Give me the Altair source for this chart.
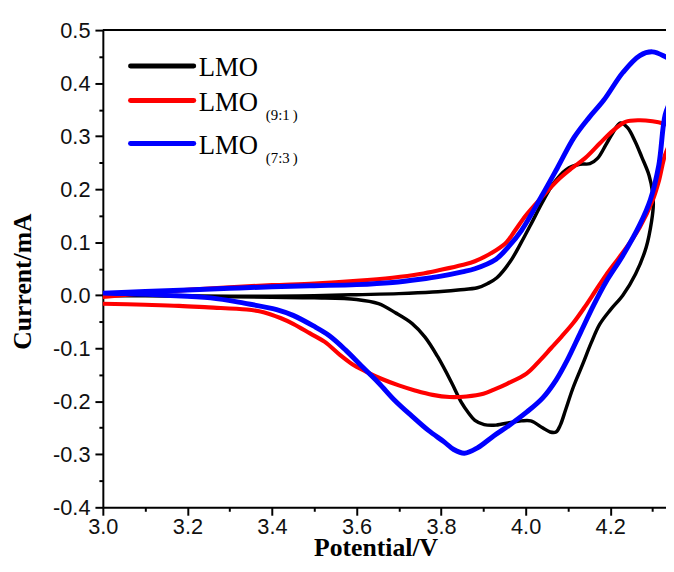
import altair as alt
import pandas as pd

# ---------------- data ----------------
series_names = ["LMO", "LMO (9:1)", "LMO (7:3)"]
series_colors = ["#000000", "#ff0000", "#0000ff"]

# LMO (black): anodic sweep then cathodic sweep
lmo_x = [3.000, 3.100, 3.200, 3.300, 3.400, 3.500, 3.600, 3.700, 3.780, 3.840,
         3.886, 3.910, 3.932, 3.964, 3.990, 4.012, 4.040, 4.065, 4.096, 4.128,
         4.152, 4.170, 4.190, 4.206, 4.224, 4.241, 4.259, 4.275, 4.292, 4.300,
         4.302, 4.298, 4.285, 4.260, 4.230, 4.200, 4.175, 4.155, 4.135, 4.112,
         4.095, 4.082, 4.072, 4.058, 4.040, 4.012, 3.990, 3.964, 3.930, 3.902,
         3.880, 3.865, 3.848, 3.825, 3.792, 3.762, 3.731, 3.692, 3.652, 3.600,
         3.500, 3.400, 3.300, 3.200, 3.100, 3.000]
lmo_y = [0.000, 0.000, -0.001, -0.002, -0.002, -0.001, 0.001, 0.003, 0.006, 0.010,
         0.014, 0.022, 0.033, 0.064, 0.100, 0.133, 0.176, 0.210, 0.237, 0.247,
         0.248, 0.258, 0.284, 0.306, 0.325, 0.316, 0.290, 0.260, 0.226, 0.195,
         0.170, 0.140, 0.090, 0.040, 0.000, -0.028, -0.055, -0.090, -0.130, -0.175,
         -0.215, -0.245, -0.258, -0.258, -0.250, -0.237, -0.237, -0.240, -0.245, -0.244,
         -0.236, -0.222, -0.202, -0.165, -0.116, -0.079, -0.053, -0.033, -0.016, -0.008,
         -0.005, -0.004, -0.003, -0.002, -0.001, -0.001]

# LMO (9:1) (red)
lmo91_x = [3.000, 3.100, 3.200, 3.300, 3.400, 3.500, 3.600, 3.685, 3.750, 3.800,
           3.850, 3.880, 3.930, 3.955, 3.975, 4.000, 4.035, 4.080, 4.110, 4.140,
           4.175, 4.206, 4.236, 4.269, 4.300, 4.330, 4.350,
           4.362, 4.345, 4.330, 4.315, 4.300, 4.270, 4.250, 4.220, 4.190, 4.165,
           4.140, 4.112, 4.085, 4.060, 4.035, 4.002, 3.956, 3.925, 3.900, 3.860,
           3.820, 3.780, 3.740, 3.700, 3.660, 3.620, 3.590, 3.560, 3.525, 3.490,
           3.450, 3.420, 3.380, 3.340, 3.250, 3.180, 3.100, 3.000]
lmo91_y = [-0.003, 0.004, 0.010, 0.015, 0.019, 0.022, 0.027, 0.033, 0.040, 0.048,
           0.057, 0.064, 0.085, 0.100, 0.122, 0.150, 0.182, 0.220, 0.240, 0.258,
           0.286, 0.310, 0.327, 0.330, 0.328, 0.323, 0.318,
           0.300, 0.290, 0.265, 0.215, 0.178, 0.128, 0.103, 0.070, 0.038, 0.008,
           -0.022, -0.053, -0.078, -0.100, -0.122, -0.148, -0.167, -0.178, -0.186, -0.191,
           -0.192, -0.188, -0.180, -0.170, -0.158, -0.143, -0.130, -0.112, -0.088, -0.072,
           -0.054, -0.043, -0.032, -0.027, -0.023, -0.020, -0.018, -0.016]

# LMO (7:3) (blue)
lmo73_x = [3.000, 3.100, 3.200, 3.300, 3.400, 3.500, 3.600, 3.685, 3.750, 3.800,
           3.850, 3.880, 3.930, 3.960, 3.990, 4.040, 4.075, 4.115, 4.150, 4.185,
           4.230, 4.270, 4.300, 4.330, 4.350,
           4.365, 4.345, 4.330, 4.315, 4.295, 4.270, 4.230, 4.190, 4.160, 4.130,
           4.100, 4.072, 4.040, 4.000, 3.960, 3.925, 3.886, 3.855, 3.830,
           3.808, 3.770, 3.731, 3.690, 3.652, 3.610, 3.575, 3.535, 3.498, 3.450,
           3.411, 3.334, 3.255, 3.150, 3.050, 3.000]
lmo73_y = [0.004, 0.007, 0.010, 0.013, 0.016, 0.018, 0.020, 0.024, 0.030, 0.036,
           0.044, 0.050, 0.068, 0.092, 0.122, 0.190, 0.240, 0.298, 0.335, 0.368,
           0.420, 0.452, 0.459, 0.450, 0.440,
           0.400, 0.370, 0.340, 0.245, 0.180, 0.133, 0.075, 0.025, -0.020, -0.070,
           -0.120, -0.160, -0.194, -0.222, -0.246, -0.265, -0.288, -0.298, -0.291,
           -0.277, -0.255, -0.228, -0.198, -0.165, -0.132, -0.104, -0.076, -0.058, -0.038,
           -0.027, -0.015, -0.005, 0.000, 0.003, 0.004]

x_ticks = [3.0, 3.1, 3.2, 3.3, 3.4, 3.5, 3.6, 3.7, 3.8, 3.9, 4.0, 4.1, 4.2, 4.3]
y_ticks = [-0.4, -0.35, -0.3, -0.25, -0.2, -0.15, -0.1, -0.05, 0.0, 0.05,
           0.1, 0.15, 0.2, 0.25, 0.3, 0.35, 0.4, 0.45, 0.5]

legend_main = ["LMO", "LMO", "LMO"]
legend_sub = ["", "(9:1\u2009)", "(7:3\u2009)"]

# ---------------- build table ----------------
rows = []
for name, xs, ys in zip(series_names, [lmo_x, lmo91_x, lmo73_x], [lmo_y, lmo91_y, lmo73_y]):
    for i, (xv, yv) in enumerate(zip(xs, ys)):
        rows.append({"series": name, "x": xv, "y": yv, "i": i})
df = pd.DataFrame(rows)

W, H = 570, 483
xscale = alt.Scale(domain=[3.0, 4.332], nice=False, zero=False)
yscale = alt.Scale(domain=[-0.4, 0.5], nice=False, zero=False)

x_major = "abs(datum.value*5 - round(datum.value*5)) < 0.01"
y_major = "abs(datum.value*10 - round(datum.value*10)) < 0.01"

common_axis = dict(
    grid=False, domainColor="black", domainWidth=2, tickColor="black", tickWidth=2,
    labelFont="Liberation Sans", labelFontSize=22, labelColor="#111111",
    titleFont="Liberation Serif", titleFontWeight="bold", titleFontSize=26,
    titleColor="black",
)

x_axis = alt.Axis(
    values=x_ticks, title="Potential/V",
    labelExpr=x_major + " ? format(datum.value, '.1f') : ''",
    tickSize={"condition": {"test": x_major, "value": 8}, "value": 4},
    labelPadding=2, titleX=276, titleY=49, titleAlign="center",
    titleBaseline="alphabetic", labelFlush=False, **common_axis,
)
y_axis = alt.Axis(
    values=y_ticks, title="Current/mA",
    labelExpr=y_major + " ? replace(format(datum.value, '.1f'), '\u2212', '-') : ''",
    tickSize={"condition": {"test": y_major, "value": 8}, "value": 4},
    labelPadding=5, titleX=-73, titleY=254, titleAngle=270, titleAlign="center",
    titleBaseline="alphabetic", labelFlush=False, **common_axis,
)

widths = [3.5, 4.2, 5]
layers = []
for k, (name, col) in enumerate(zip(series_names, series_colors)):
    layers.append(
        alt.Chart(df).transform_filter(alt.datum.series == name)
        .mark_line(color=col, strokeWidth=widths[k], clip=True,
                   strokeCap="round", strokeJoin="round", interpolate="catmull-rom")
        .encode(
            x=alt.X("x:Q", scale=xscale, axis=x_axis),
            y=alt.Y("y:Q", scale=yscale, axis=y_axis),
            order="i:Q",
        )
    )

# top frame line
top_line = alt.Chart(pd.DataFrame({"a": [0]})).mark_rule(color="black", strokeWidth=2).encode(
    x=alt.value(0), x2=alt.value(W), y=alt.value(0))

# manual legend
leg_line_y = [36.3, 71.3, 114.7]
leg_text_y = [46.5, 81.5, 125]
leg_sub_y = [0, 91, 134]
leg_layers = []
for k in range(3):
    leg_layers.append(
        alt.Chart(pd.DataFrame({"a": [0]})).mark_rule(
            color=series_colors[k], strokeWidth=5, strokeCap="round").encode(
            x=alt.value(28), x2=alt.value(92), y=alt.value(leg_line_y[k]))
    )
    leg_layers.append(
        alt.Chart(pd.DataFrame({"t": [legend_main[k]]})).mark_text(
            align="left", baseline="alphabetic", font="Liberation Serif",
            fontSize=27, color="black").encode(
            x=alt.value(97), y=alt.value(leg_text_y[k]), text="t:N")
    )
    if legend_sub[k]:
        leg_layers.append(
            alt.Chart(pd.DataFrame({"t": [legend_sub[k]]})).mark_text(
                align="left", baseline="alphabetic", font="Liberation Serif",
                fontSize=15, color="black").encode(
                x=alt.value(165), y=alt.value(leg_sub_y[k]), text="t:N")
        )

chart = alt.layer(*layers, top_line, *leg_layers).properties(
    width=W, height=H,
    autosize=alt.AutoSizeParams(type="none"),
    padding={"left": 96, "top": 19, "right": 0, "bottom": 54},
).configure_view(stroke=None).configure(background="white")

chart.save("out.html", embed_options={"renderer": "svg", "actions": False})
